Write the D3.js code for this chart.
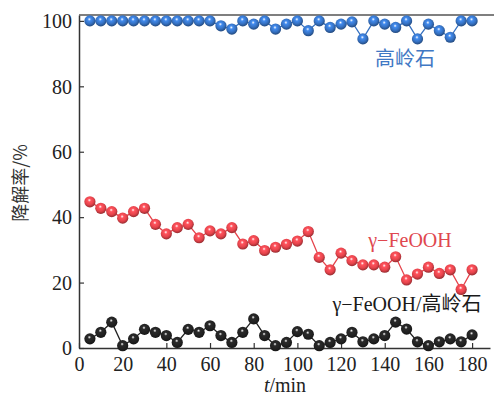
<!DOCTYPE html>
<html>
<head>
<meta charset="utf-8">
<script src="https://cdn.jsdelivr.net/npm/d3@7"></script>
<style>
  html, body { margin: 0; padding: 0; background: #fff; }
  svg { display: block; }
  .tick text { font-family: "Liberation Serif", "Times New Roman", serif; font-size: 20px; fill: #222; }
</style>
</head>
<body>
<svg id="chart" width="494" height="396"></svg>
<script>
// Data
const times = [5, 10, 15, 20, 25, 30, 35, 40, 45, 50, 55, 60, 65, 70, 75, 80, 85, 90,
  95, 100, 105, 110, 115, 120, 125, 130, 135, 140, 145, 150, 155, 160, 165, 170, 175, 180];
const kaolinite = [100, 100, 100, 100, 100, 100, 100, 100, 100, 100, 100, 100, 98.5, 97.5, 100, 99, 100, 97.5,
  99, 100, 97, 100, 98, 99, 99.7, 94.5, 100, 99, 98, 100, 94.5, 99, 97, 95, 100, 100];
const feooh = [44.7, 42.7, 41.7, 39.7, 41.7, 42.7, 37.8, 34.9, 36.8, 37.8, 33.7, 35.8, 34.9, 36.8, 31.8, 32.8, 29.8, 30.8,
  31.7, 32.7, 35.6, 27.7, 23.9, 29, 26.7, 25.4, 25.4, 24.7, 27.9, 20.8, 22.6, 24.7, 22.8, 23.9, 17.9, 23.9];
const composite = [2.8, 4.8, 7.9, 0.7, 2.8, 5.7, 4.8, 3.8, 1.7, 5.7, 4.8, 6.8, 3.8, 1.7, 4.8, 8.9, 3.8, 0.7,
  1.7, 5.0, 4.2, 0.7, 1.7, 2.8, 4.8, 1.9, 2.8, 3.8, 7.9, 5.8, 1.9, 0.7, 1.9, 2.8, 1.9, 4.0];
const xTicks = [0, 20, 40, 60, 80, 100, 120, 140, 160, 180];
const yTicks = [0, 20, 40, 60, 80, 100];

const series = [
  { name: '高岭石', values: kaolinite, color: '#3570c0', text: '#3f78c4', lx: 405, ly: 66 },
  { name: 'γ−FeOOH', values: feooh, color: '#e5434b', text: '#e0474f', lx: 410, ly: 247 },
  { name: 'γ−FeOOH/高岭石', values: composite, color: '#222222', text: '#1a1a1a', lx: 407, ly: 311 }
];

const svg = d3.select('#chart');
const serif = '"Liberation Serif", "Times New Roman", "Noto Sans CJK SC", serif';

const x = d3.scaleLinear().domain([0, 188.2]).range([79, 490]);
const y = d3.scaleLinear().domain([0, 101.8]).range([348, 15]);

// sphere gradients
const defs = svg.append('defs');
series.forEach((s, i) => {
  const g = defs.append('radialGradient')
    .attr('id', `ball-${i}`)
    .attr('cx', '45%').attr('cy', '40%').attr('r', '60%')
    .attr('fx', '45%').attr('fy', '35%');
  g.append('stop').attr('offset', '0%').attr('stop-color', '#ffffff');
  g.append('stop').attr('offset', '25%').attr('stop-color', d3.color(s.color).brighter(0.6));
  g.append('stop').attr('offset', '65%').attr('stop-color', s.color);
  g.append('stop').attr('offset', '100%').attr('stop-color', d3.color(s.color).darker(1.2));
});

// axes
const xAxis = svg.append('g')
  .attr('transform', `translate(0,${y(0)})`)
  .call(d3.axisBottom(x).tickValues(xTicks).tickSizeInner(-5).tickSizeOuter(0).tickPadding(9));
const yAxis = svg.append('g')
  .attr('transform', `translate(${x(0)},0)`)
  .call(d3.axisLeft(y).tickValues(yTicks).tickSizeInner(-5).tickSizeOuter(0).tickPadding(7));
[xAxis, yAxis].forEach(a => {
  a.select('.domain').attr('stroke', '#333').attr('stroke-width', 1.5);
  a.selectAll('.tick line').attr('stroke', '#333').attr('stroke-width', 1.2);
});
yAxis.selectAll('.tick text').attr('dy', '0.34em');

// top frame line
svg.append('line')
  .attr('x1', x(0)).attr('x2', 494)
  .attr('y1', y.range()[1]).attr('y2', y.range()[1])
  .attr('stroke', '#555').attr('stroke-width', 1.5);

// lines + markers
const line = d3.line().x((d, i) => x(times[i])).y(d => y(d));
series.forEach((s, i) => {
  svg.append('path')
    .attr('d', line(s.values))
    .attr('fill', 'none')
    .attr('stroke', s.color)
    .attr('stroke-width', 1.3);
  svg.append('g').selectAll('circle')
    .data(s.values)
    .join('circle')
    .attr('cx', (d, j) => x(times[j]))
    .attr('cy', d => y(d))
    .attr('r', 5.6)
    .attr('fill', `url(#ball-${i})`);
  svg.append('text')
    .attr('x', s.lx).attr('y', s.ly)
    .attr('text-anchor', 'middle')
    .attr('font-family', serif)
    .attr('font-size', 20)
    .attr('fill', s.text)
    .text(s.name);
});

// axis titles
const xt = svg.append('text')
  .attr('x', 285).attr('y', 392)
  .attr('text-anchor', 'middle')
  .attr('font-family', serif)
  .attr('font-size', 20)
  .attr('fill', '#222');
xt.append('tspan').attr('font-style', 'italic').text('t');
xt.append('tspan').text('/min');

svg.append('text')
  .attr('transform', 'translate(27,183) rotate(-90)')
  .attr('text-anchor', 'middle')
  .attr('font-family', '"Noto Sans CJK SC", sans-serif')
  .attr('font-size', 18)
  .attr('fill', '#333')
  .text('降解率/%');
</script>
</body>
</html>
